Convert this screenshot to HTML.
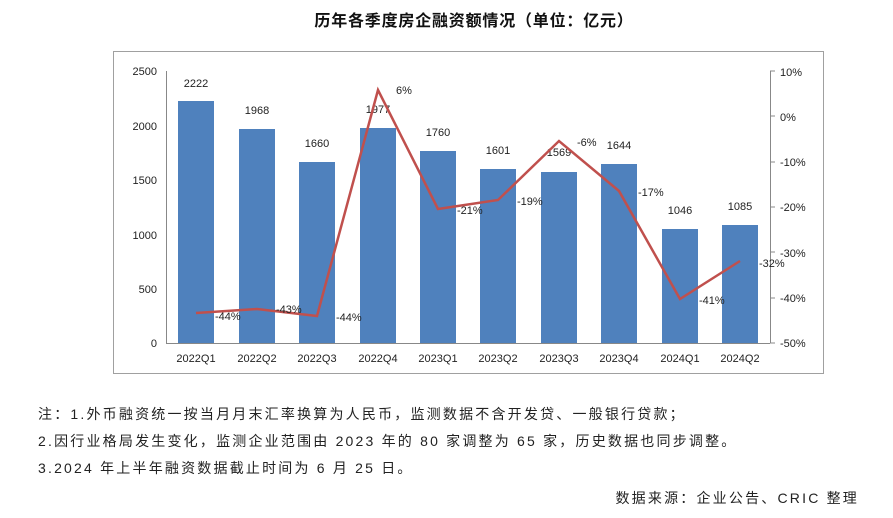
<!DOCTYPE html>
<html><head><meta charset="utf-8"><style>
body{margin:0;background:#fff;width:893px;height:518px;overflow:hidden;font-family:"Liberation Sans","Noto Sans CJK SC",sans-serif}
.n{position:absolute;left:38px;font-size:14px;letter-spacing:2.2px;color:#222;white-space:nowrap;font-family:"Liberation Sans","Noto Sans CJK SC",sans-serif}
</style></head><body>
<svg width="893" height="518" style="position:absolute;left:0;top:0" font-family="Liberation Sans, Noto Sans CJK SC, sans-serif">
<text x="474" y="26" text-anchor="middle" font-size="16" font-weight="bold" letter-spacing="0.8" fill="#111">历年各季度房企融资额情况（单位：亿元）</text>
<rect x="113.5" y="51.5" width="710" height="322" fill="#fff" stroke="#a0a0a0"/>
<g font-size="11" fill="#222" text-anchor="end">
<text x="157" y="75">2500</text><text x="157" y="130">2000</text><text x="157" y="184">1500</text>
<text x="157" y="239">1000</text><text x="157" y="293">500</text><text x="157" y="347">0</text>
</g>
<g font-size="11" fill="#222">
<text x="780" y="76">10%</text><text x="780" y="121">0%</text><text x="780" y="166">-10%</text>
<text x="780" y="211">-20%</text><text x="780" y="257">-30%</text><text x="780" y="302">-40%</text><text x="780" y="347">-50%</text>
</g>
<line x1="166.5" y1="71" x2="166.5" y2="343" stroke="#888"/>
<line x1="770.5" y1="71" x2="770.5" y2="343" stroke="#888"/>
<g stroke="#888"><line x1="770" y1="71" x2="775" y2="71"/><line x1="770" y1="116" x2="775" y2="116"/><line x1="770" y1="162" x2="775" y2="162"/><line x1="770" y1="207" x2="775" y2="207"/><line x1="770" y1="252" x2="775" y2="252"/><line x1="770" y1="298" x2="775" y2="298"/><line x1="770" y1="343" x2="775" y2="343"/></g>
<g fill="#4f81bd">
<rect x="178" y="101" width="36" height="242"/>
<rect x="239" y="129" width="36" height="214"/>
<rect x="299" y="162" width="36" height="181"/>
<rect x="360" y="128" width="36" height="215"/>
<rect x="420" y="151" width="36" height="192"/>
<rect x="480" y="169" width="36" height="174"/>
<rect x="541" y="172" width="36" height="171"/>
<rect x="601" y="164" width="36" height="179"/>
<rect x="662" y="229" width="36" height="114"/>
<rect x="722" y="225" width="36" height="118"/>
</g>
<line x1="166" y1="343.5" x2="770" y2="343.5" stroke="#888"/>
<g font-size="11" fill="#222" text-anchor="middle">
<text x="196" y="87">2222</text><text x="257" y="114">1968</text><text x="317" y="147">1660</text>
<text x="378" y="113">1977</text><text x="438" y="136">1760</text><text x="498" y="154">1601</text>
<text x="559" y="156">1569</text><text x="619" y="149">1644</text><text x="680" y="214">1046</text><text x="740" y="210">1085</text>
</g>
<polyline fill="none" stroke="#c0504d" stroke-width="2.5" points="196,313 257,309 317,316 378,90 438,209 498,200 559,141 619,191 680,299 740,261"/>
<g font-size="11" fill="#222">
<text x="215" y="320">-44%</text><text x="276" y="313">-43%</text><text x="336" y="321">-44%</text>
<text x="396" y="94">6%</text><text x="457" y="214">-21%</text><text x="517" y="205">-19%</text>
<text x="577" y="146">-6%</text><text x="638" y="196">-17%</text><text x="699" y="304">-41%</text><text x="759" y="267">-32%</text>
</g>
<g font-size="11" fill="#222" text-anchor="middle">
<text x="196" y="362">2022Q1</text><text x="257" y="362">2022Q2</text><text x="317" y="362">2022Q3</text>
<text x="378" y="362">2022Q4</text><text x="438" y="362">2023Q1</text><text x="498" y="362">2023Q2</text>
<text x="559" y="362">2023Q3</text><text x="619" y="362">2023Q4</text><text x="680" y="362">2024Q1</text><text x="740" y="362">2024Q2</text>
</g>
</svg>
<div class="n" style="top:404px">注：1.外币融资统一按当月月末汇率换算为人民币，监测数据不含开发贷、一般银行贷款；</div>
<div class="n" style="top:431px">2.因行业格局发生变化，监测企业范围由 2023 年的 80 家调整为 65 家，历史数据也同步调整。</div>
<div class="n" style="top:458px">3.2024 年上半年融资数据截止时间为 6 月 25 日。</div>
<div class="n" style="top:488px;left:auto;right:34px">数据来源：企业公告、CRIC 整理</div>
</body></html>
